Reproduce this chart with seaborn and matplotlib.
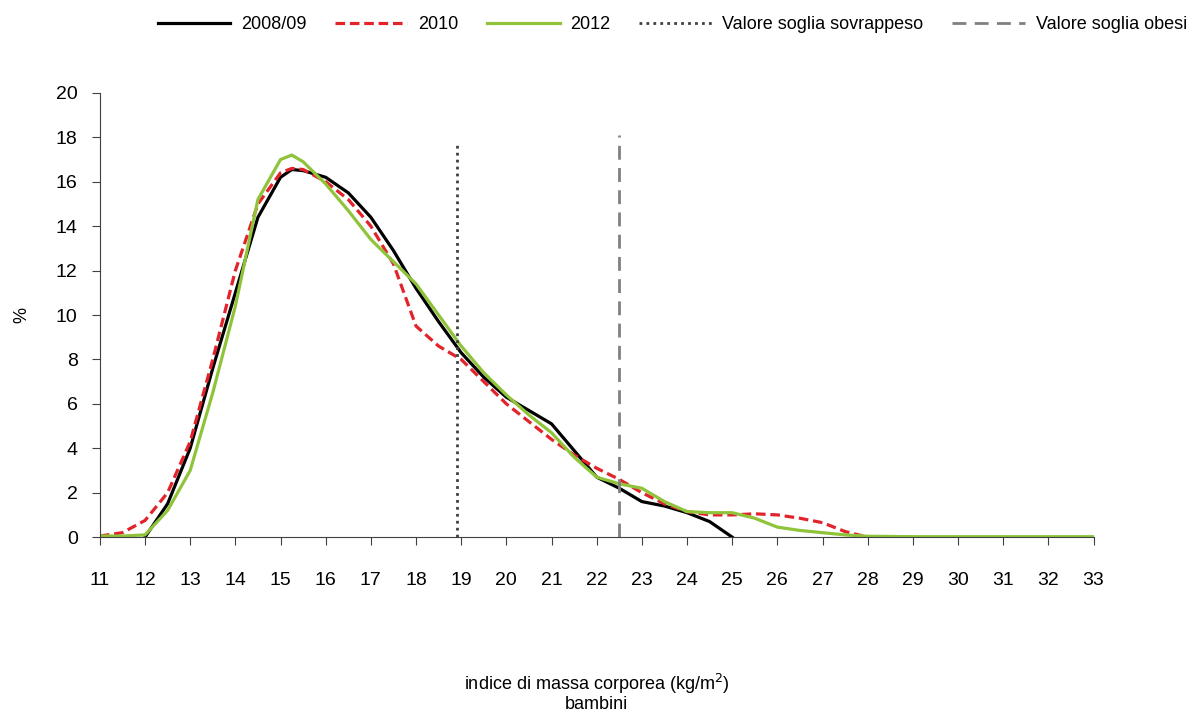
import matplotlib
matplotlib.use("Agg")
import matplotlib.pyplot as plt
import seaborn as sns
import pandas as pd

# BMI distribution (%)
bmi_0809 = [12, 12.5, 13, 13.5, 14, 14.5, 15, 15.25, 15.5, 16, 16.5, 17, 17.5, 18, 18.5,
            19, 19.5, 20, 20.5, 21, 21.5, 22, 22.5, 23, 23.5, 24, 24.5, 25]
pct_0809 = [0, 1.5, 4.0, 7.6, 11.0, 14.4, 16.2, 16.55, 16.5, 16.2, 15.5, 14.4, 12.9, 11.2, 9.7,
            8.3, 7.2, 6.3, 5.7, 5.1, 3.9, 2.7, 2.2, 1.6, 1.4, 1.1, 0.7, 0]

bmi_2010 = [11, 11.5, 12, 12.5, 13, 13.5, 14, 14.5, 15, 15.25, 15.5, 16, 16.5, 17, 17.5, 18,
            18.5, 19, 19.5, 20, 20.5, 21, 21.5, 22, 22.5, 23, 23.5, 24, 24.5, 25, 25.5,
            26, 26.5, 27, 27.5, 28]
pct_2010 = [0.05, 0.2, 0.75, 2.0, 4.3, 8.0, 12.0, 15.0, 16.4, 16.6, 16.55, 16.0, 15.2, 14.0, 12.3, 9.5,
            8.6, 8.0, 7.0, 6.0, 5.2, 4.4, 3.7, 3.1, 2.6, 2.0, 1.5, 1.15, 1.0, 1.0, 1.05,
            1.0, 0.85, 0.65, 0.25, 0]

bmi_2012 = [11, 11.5, 12, 12.5, 13, 13.5, 14, 14.5, 15, 15.25, 15.5, 16, 16.5, 17, 17.5, 18,
            18.5, 19, 19.5, 20, 20.5, 21, 21.5, 22, 22.5, 23, 23.5, 24, 24.5, 25, 25.5,
            26, 26.5, 27, 27.5, 28, 29, 30, 31, 32, 33]
pct_2012 = [0.05, 0.05, 0.1, 1.2, 3.0, 6.5, 10.4, 15.2, 17.0, 17.2, 16.9, 15.9, 14.7, 13.4, 12.4, 11.4,
            10.0, 8.6, 7.4, 6.4, 5.5, 4.7, 3.6, 2.7, 2.4, 2.2, 1.6, 1.15, 1.1, 1.1, 0.85,
            0.45, 0.3, 0.2, 0.1, 0.04, 0.02, 0.02, 0.02, 0.02, 0.02]

soglia_sovrappeso = 18.9
soglia_obesi = 22.5
soglia_top = [17.7, 18.1]

plt.rcParams['font.family'] = ['Liberation Sans', 'DejaVu Sans']

fig = plt.figure(figsize=(12.03, 7.2), dpi=100)
ax = fig.add_axes([0.083, 0.254, 0.826, 0.617])

df1 = pd.DataFrame({"x": bmi_0809, "y": pct_0809})
df2 = pd.DataFrame({"x": bmi_2010, "y": pct_2010})
df3 = pd.DataFrame({"x": bmi_2012, "y": pct_2012})

sns.lineplot(data=df1, x="x", y="y", ax=ax, color="black", lw=2.3, label="2008/09")
sns.lineplot(data=df2, x="x", y="y", ax=ax, color="#e3232b", lw=2.3, ls=(0, (3, 1.5)), label="2010")
sns.lineplot(data=df3, x="x", y="y", ax=ax, color="#8fc43a", lw=2.3, label="2012")
ax.plot([soglia_sovrappeso, soglia_sovrappeso], [0, soglia_top[0]], color="#404040",
        lw=2, ls=(0, (1, 1.5)), label="Valore soglia sovrappeso")
ax.plot([soglia_obesi, soglia_obesi], [0, soglia_top[1]], color="#808080",
        lw=2, ls=(0, (5, 3)), label="Valore soglia obesi")

ax.set_xlim(11, 33)
ax.set_ylim(0, 20)
ax.set_xticks(range(11, 34))
ax.set_yticks(range(0, 21, 2))
ax.tick_params(axis="x", labelsize=14, length=6, color="#404040", pad=19)
ax.tick_params(axis="y", labelsize=14, length=6, color="#404040", pad=10)
for s in ["top", "right"]:
    ax.spines[s].set_visible(False)
for s in ["left", "bottom"]:
    ax.spines[s].set_color("#404040")

ax.set_xlabel("indice di massa corporea (kg/m$^2$)\nbambini", fontsize=13, labelpad=60,
              linespacing=1.0)
ax.set_ylabel("%", fontsize=13, labelpad=18)

handles, labels = ax.get_legend_handles_labels()
ax.legend().remove()
fig.legend(handles, labels, loc="upper right", bbox_to_anchor=(1.0, 1.0), ncol=5,
           frameon=False, fontsize=13, handlelength=4, columnspacing=1.6,
           handletextpad=0.6)

fig.savefig("out.png", dpi=100)
